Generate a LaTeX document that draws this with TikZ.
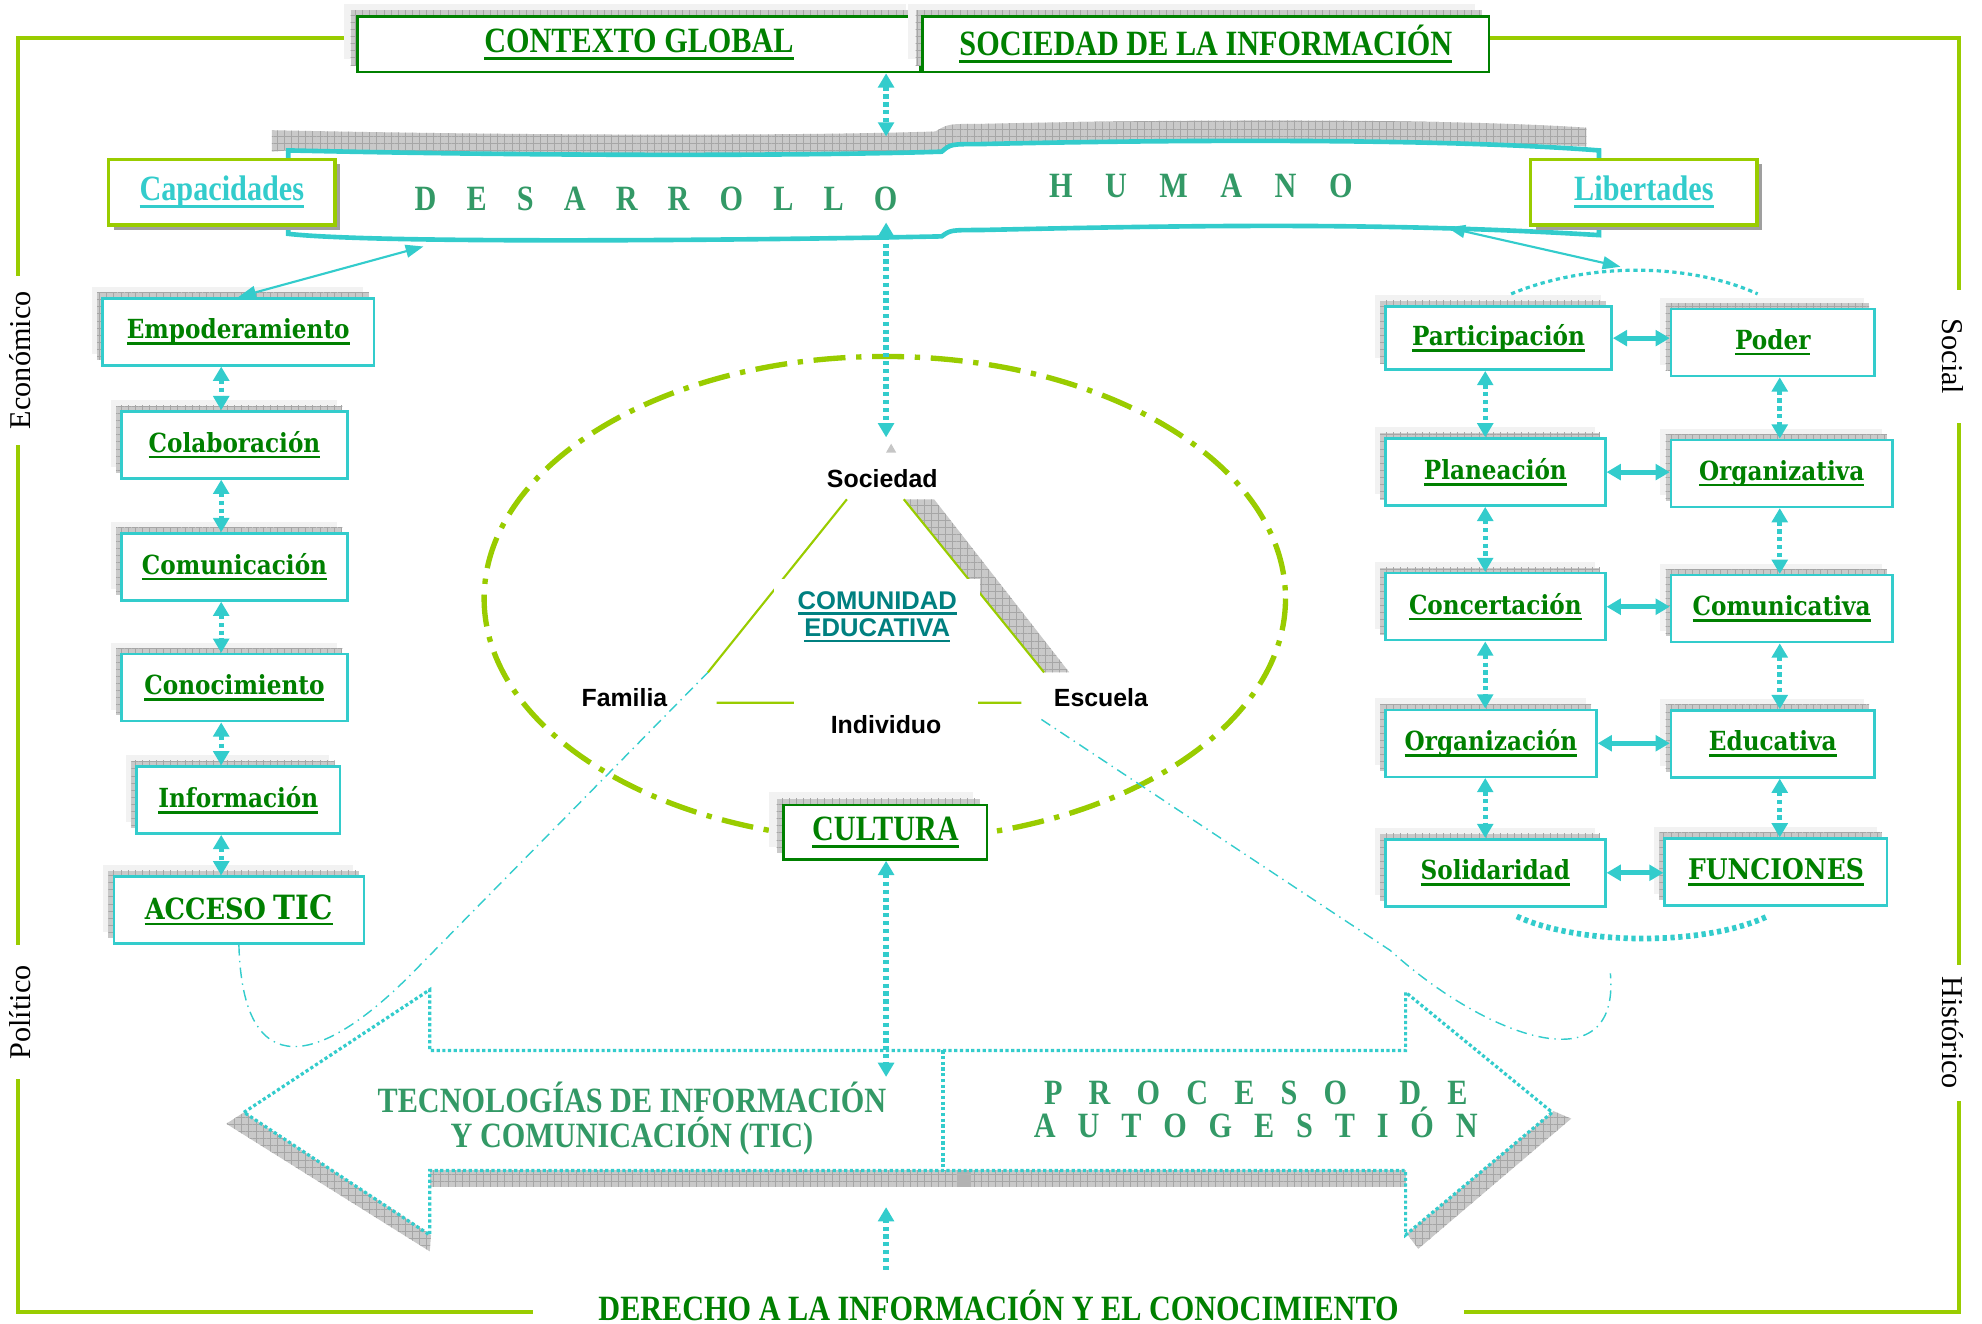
\documentclass[tikz,border=0pt]{standalone}
\usepackage{fontspec}
\setmainfont{Liberation Serif}
\newfontfamily\condserif[FakeStretch=0.85]{Liberation Serif}
\newfontfamily\boxserif[FakeStretch=0.88]{DejaVu Serif}
\newfontfamily\labelsans{Liberation Sans}
\usetikzlibrary{positioning,shadows,arrows.meta,patterns.meta}

\definecolor{framegreen}{HTML}{99CC00}
\definecolor{aqua}{HTML}{33CCCC}
\definecolor{leafgreen}{HTML}{008000}
\definecolor{seagreen}{HTML}{339966}
\definecolor{tealtext}{HTML}{008080}

\newcommand{\px}{0.0125cm}
\newcommand{\undl}[1]{\setbox0\hbox{#1}\rlap{\rule[-0.22em]{\wd0}{0.09em}}\box0}

\tikzset{
  frame/.style={draw=framegreen, line width=1.1pt},
  sidelabel/.style={fill=white, inner ysep=1pt, font=\fontsize{8.5}{10}\selectfont},
  grid fill/.style={fill=gray!42, postaction={pattern={Hatch[angle=0,distance=2pt,line width=0.2pt]}, pattern color=gray!70}},
  titlebox/.style={draw=leafgreen, line width=0.7pt, fill=white, inner sep=0pt,
    text=leafgreen, font=\condserif\bfseries\fontsize{10}{12}\selectfont,
    general shadow={fill=gray!10, shadow xshift=-4pt, shadow yshift=3.6pt},
    general shadow={grid fill, shadow xshift=-2pt, shadow yshift=1.8pt}},
  item/.style={draw=aqua, line width=0.7pt, fill=white, inner sep=0pt,
    minimum height=53*\px, text=leafgreen,
    font=\boxserif\bfseries\fontsize{7.4}{8}\selectfont,
    general shadow={fill=gray!10, shadow xshift=-3pt, shadow yshift=3.2pt},
    general shadow={grid fill, shadow xshift=-1.5pt, shadow yshift=1.6pt}},
  capbox/.style={draw=framegreen, line width=0.9pt, fill=white, inner sep=0pt,
    minimum width=179*\px, minimum height=52*\px, text=aqua,
    font=\condserif\bfseries\fontsize{10}{12}\selectfont,
    general shadow={fill=gray!75, shadow xshift=1.4pt, shadow yshift=-1.4pt}},
  banner/.style={text=seagreen, font=\condserif\bfseries\fontsize{10}{12}\selectfont},
  person/.style={font=\labelsans\bfseries\fontsize{7}{8}\selectfont},
  ribbon/.style={draw=aqua, line width=1.3pt},
  dotline/.style={draw=aqua, line width=1.3pt, dash pattern=on 1.2pt off 1pt},
  dotarrow/.style={dotline, <->},
  solidarrow/.style={draw=aqua, line width=1.4pt, <->},
  thinarrow/.style={draw=aqua, line width=0.6pt,
    {Triangle[length=5pt,width=3.6pt]}-{Triangle[length=5pt,width=3.6pt]}},
  dashdotline/.style={draw=aqua, line width=0.4pt,
    dash pattern=on 3pt off 1.5pt on 0.4pt off 1.5pt},
}

\begin{document}
\begin{tikzpicture}[x=0.0125cm, y=-0.0125cm, >={Triangle[length=4pt,width=4.4pt]}]
\useasboundingbox (0,0) rectangle (1568,1047);

% marco de contexto
\draw[frame] (14,30) rectangle (1550,1038);
\node[sidelabel, rotate=90, minimum width=134*\px] (economico) at (16,285) {Económico};
\node[sidelabel, rotate=90, minimum width=106*\px] (politico) at (16,801) {Político};
\node[sidelabel, rotate=-90, minimum width=105*\px] (social) at (1545,282) {Social};
\node[sidelabel, rotate=-90, minimum width=105*\px] (historico) at (1545,817) {Histórico};
\node[fill=white, inner ysep=1pt, minimum width=736*\px, text=leafgreen,
  font=\condserif\bfseries\fontsize{10}{12}\selectfont] (derecho) at (790,1036)
  {\undl{DERECHO A LA INFORMACIÓN Y EL CONOCIMIENTO}};

% titulos
\node[titlebox, minimum width=445*\px, minimum height=44*\px] (contexto) at (505.5,35) {\undl{CONTEXTO GLOBAL}};
\node[titlebox, minimum width=448*\px, minimum height=44*\px, right=0pt of contexto] (sociedadinfo) {\undl{SOCIEDAD DE LA INFORMACIÓN}};

% cinta desarrollo humano
\fill[grid fill] (215,120) -- (215,103) .. controls (450,108) and (650,107) .. (740,104)
  .. controls (750,98) .. (775,98) .. controls (950,94) and (1150,94) .. (1255,101)
  -- (1255,116) .. controls (1150,110) and (950,110) .. (775,114)
  .. controls (752,114) .. (745,120) .. controls (650,123) and (450,124) .. (228,119) -- cycle;
\draw[ribbon] (228,128) -- (228,119) .. controls (450,124) and (650,123) .. (745,120)
  .. controls (752,114) .. (775,114) .. controls (950,110) and (1150,110) .. (1265,119) -- (1265,128);
\draw[ribbon] (228,178) -- (228,185) .. controls (300,193) and (600,190) .. (745,187)
  .. controls (752,182) .. (775,182) .. controls (950,178) and (1100,176) .. (1265,186) -- (1265,178);
\node[banner] (desarrollo) at (519,157) {\makebox[4.775cm][s]{D E S A R R O L L O}};
\node[banner] (humano) at (950,147) {\makebox[3cm][s]{H U M A N O}};
\node[capbox] (capacidades) at (175.5,152) {\undl{Capacidades}};
\node[capbox] (libertades) at (1300.5,152) {\undl{Libertades}};
\coordinate (ribtop) at (701,108);
\coordinate (ribbot) at (701,176);
\coordinate (ribleft) at (335,195);
\coordinate (ribright) at (1145,180);

% columna izquierda
\node[item, minimum width=215*\px] (empoderamiento) at (188.5,262.5) {\undl{Empoderamiento}};
\node[item, minimum width=179*\px] (colaboracion) at (185.5,352) {\undl{Colaboración}};
\node[item, minimum width=179*\px] (comunicacion) at (185.5,448.5) {\undl{Comunicación}};
\node[item, minimum width=179*\px] (conocimiento) at (185.5,544) {\undl{Conocimiento}};
\node[item, minimum width=161*\px] (informacion) at (188.5,633) {\undl{Información}};
\node[item, minimum width=198*\px] (acceso) at (189,720) {\undl{{\fontsize{8.2}{9}\selectfont ACCESO} {\fontsize{9.4}{10}\selectfont TIC}}};
\coordinate (colL) at (175,0);
\draw[dotarrow] (empoderamiento.south -| colL) -- (colaboracion.north -| colL);
\draw[dotarrow] (colaboracion.south -| colL) -- (comunicacion.north -| colL);
\draw[dotarrow] (comunicacion.south -| colL) -- (conocimiento.north -| colL);
\draw[dotarrow] (conocimiento.south -| colL) -- (informacion.north -| colL);
\draw[dotarrow] (informacion.south -| colL) -- (acceso.north -| colL);
\draw[thinarrow] (empoderamiento.north) -- (ribleft);

% funciones (derecha)
\node[item, minimum width=179*\px, minimum height=50*\px] (participacion) at (1185.5,267.5) {\undl{Participación}};
\node[item, minimum width=174*\px] (planeacion) at (1183,373.5) {\undl{Planeación}};
\node[item, minimum width=174*\px] (concertacion) at (1183,480) {\undl{Concertación}};
\node[item, minimum width=167*\px] (organizacion) at (1179.5,588) {\undl{Organización}};
\node[item, minimum width=174*\px] (solidaridad) at (1183,690.5) {\undl{Solidaridad}};
\node[item, minimum width=161*\px] (poder) at (1402.5,271) {\undl{Poder}};
\node[item, minimum width=175*\px] (organizativa) at (1409.5,374.5) {\undl{Organizativa}};
\node[item, minimum width=175*\px] (comunicativa) at (1409.5,481.5) {\undl{Comunicativa}};
\node[item, minimum width=161*\px] (educativa) at (1402.5,588.5) {\undl{Educativa}};
\node[item, minimum width=176*\px, font=\boxserif\bfseries\fontsize{8}{9}\selectfont] (funciones) at (1405,690) {\undl{FUNCIONES}};
\coordinate (colA) at (1175,0);
\coordinate (colB) at (1408,0);
\draw[dotarrow] (participacion.south -| colA) -- (planeacion.north -| colA);
\draw[dotarrow] (planeacion.south -| colA) -- (concertacion.north -| colA);
\draw[dotarrow] (concertacion.south -| colA) -- (organizacion.north -| colA);
\draw[dotarrow] (organizacion.south -| colA) -- (solidaridad.north -| colA);
\draw[dotarrow] (poder.south -| colB) -- (organizativa.north -| colB);
\draw[dotarrow] (organizativa.south -| colB) -- (comunicativa.north -| colB);
\draw[dotarrow] (comunicativa.south -| colB) -- (educativa.north -| colB);
\draw[dotarrow] (educativa.south -| colB) -- (funciones.north -| colB);
\draw[solidarrow] (participacion.east) -- (participacion.east -| poder.west);
\draw[solidarrow] (planeacion.east) -- (planeacion.east -| organizativa.west);
\draw[solidarrow] (concertacion.east) -- (concertacion.east -| comunicativa.west);
\draw[solidarrow] (organizacion.east) -- (organizacion.east -| educativa.west);
\draw[solidarrow] (solidaridad.east) -- (solidaridad.east -| funciones.west);
\coordinate (arcpeak) at (1282,211);
\draw[dotline, line width=0.9pt] ([shift={(10,-9)}]participacion.north)
  .. controls +(60,-25) and +(-55,-25) .. ([shift={(-12,-11)}]poder.north);
\draw[dotline, line width=1.6pt] ([shift={(17,7)}]solidaridad.south)
  .. controls +(50,23) and +(-50,23) .. ([shift={(-8,8)}]funciones.south);
\draw[thinarrow] (ribright) -- (arcpeak);

% comunidad educativa
\draw[draw=framegreen, line width=1.5pt, dash pattern=on 9pt off 3pt on 1.5pt off 3pt]
  (700,473.5) ellipse [x radius=317, y radius=191.5];
\coordinate (tl) at (670,395);
\coordinate (tr) at (715,395);
\coordinate (bl) at (560,532);
\coordinate (br) at (826,532);
\coordinate (bf) at (567,556);
\coordinate (be) at (808,556);
\fill[grid fill] (715,395) -- (739,395) -- (846,532) -- (826,532) -- cycle;
\fill[gray!45] (705,351) -- (709,358) -- (701,358) -- cycle;
\draw[framegreen, line width=0.6pt] (tl) -- (bl) (tr) -- (br) (bf) -- (be);
\node[person] (sociedad) at (698,379) {Sociedad};
\node[person] (familia) at (494,552) {Familia};
\node[person] (escuela) at (871,552) {Escuela};
\node[person, fill=white, minimum width=145*\px, minimum height=42*\px] (individuo) at (701,573) {Individuo};
\node[fill=white, inner sep=0pt, minimum width=163*\px, minimum height=60*\px, align=center,
  text=tealtext, font=\labelsans\bfseries\fontsize{7.2}{7.8}\selectfont] (comunidad) at (694,488)
  {\undl{COMUNIDAD}\\\undl{EDUCATIVA}};
\node[titlebox, minimum width=161*\px, minimum height=43*\px] (cultura) at (700.5,658.5) {\undl{CULTURA}};
\coordinate (rend) at (1274,770);
\draw[dashdotline] (acceso.south) .. controls (192,860) and (255,842) .. (326,770) -- (bl);
\draw[dashdotline] (escuela.south west) -- (1100,752) .. controls (1175,820) and (1282,860) .. (rend);

% flecha TIC / autogestion
\fill[grid fill] (179,889) -- (193,880) -- (341,977) -- (340,990) -- cycle;
\fill[grid fill] (1229,879) -- (1243,885) -- (1122,988) -- (1113,976) -- cycle;
\fill[grid fill] (340,926) rectangle (1112,939);
\fill[gray!60] (757,926) rectangle (768,939);
\draw[dotline, line width=0.9pt, dash pattern=on 0.9pt off 0.7pt]
  (193,880) -- (340,783) -- (340,831) -- (1112,831) -- (1112,785) -- (1228,880)
  -- (1112,977) -- (1112,926) -- (340,926) -- (340,977) -- cycle;
\draw[dotline, line width=0.9pt, dash pattern=on 0.9pt off 0.7pt] (746,831) -- (746,926);
\node[banner, align=center, font=\condserif\bfseries\fontsize{10}{10}\selectfont] (tic) at (500,885)
  {TECNOLOGÍAS DE INFORMACIÓN\\Y COMUNICACIÓN (TIC)};
\node[banner, align=center, font=\condserif\bfseries\fontsize{10}{9.3}\selectfont] (autogestion) at (993.5,878)
  {\makebox[4.1875cm][s]{P R O C E S O\ \ D E}\\\makebox[4.3875cm][s]{A U T O G E S T I Ó N}};

% ejes verticales
\coordinate (axis) at (701,0);
\coordinate (apexmark) at (701,346);
\coordinate (tictop) at (701,852);
\coordinate (ticbot) at (701,955);
\draw[dotarrow, line width=1.5pt] (contexto.south -| axis) -- (ribtop);
\draw[dotarrow, line width=1.5pt] (ribbot) -- (apexmark);
\draw[dotarrow, line width=1.5pt] (cultura.south -| axis) -- (tictop);
\draw[dotline, line width=1.5pt, ->, shorten <=0.16cm] (derecho.north -| axis) -- (ticbot);
\end{tikzpicture}
\end{document}
